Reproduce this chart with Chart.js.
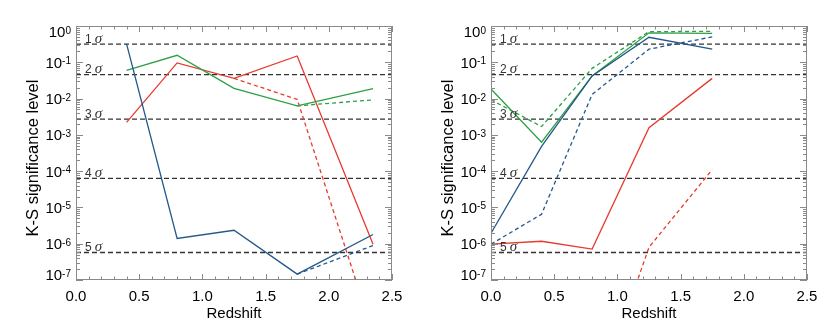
<!DOCTYPE html>
<html><head><meta charset="utf-8">
<script src="https://cdn.jsdelivr.net/npm/chart.js@4/dist/chart.umd.min.js"></script>
<style>
html,body{margin:0;padding:0;background:#fff;width:830px;height:333px;overflow:hidden}
.p{position:absolute;top:0;width:415px;height:333px}
</style></head>
<body>
<div class="p" style="left:0"><canvas id="c1" width="415" height="333"></canvas></div>
<div class="p" style="left:415px"><canvas id="c2" width="415" height="333"></canvas></div>
<script>
// ---- data ----
const sigmaLevels = [0.3173, 0.0455, 0.0027, 6.334e-5, 5.733e-7];
const sigmaLabels = ['1', '2', '3', '4', '5'];
const xTickValues = [0, 0.5, 1.0, 1.5, 2.0, 2.5];
const xTickLabels = ['0.0', '0.5', '1.0', '1.5', '2.0', '2.5'];
const yExponents = [0, -1, -2, -3, -4, -5, -6, -7];

// left panel
const zLeft = [0.4, 0.8, 1.25, 1.75, 2.35];
const leftBlue      = [0.32, 1.4e-6, 2.35e-6, 1.45e-7, 1.8e-6];
const leftBlueDash  = [null, null, null, 1.45e-7, 8.9e-7];
const leftGreen     = [0.060, 0.156, 0.0192, 0.0063, 0.0188];
const leftGreenDash = [null, null, null, 0.0063, 0.0092];
const leftRed       = [0.0022, 0.096, 0.036, 0.149, 9.7e-7];
const leftRedDash   = [null, null, 0.036, 0.0095, 3.4e-9];

// right panel
const zRight = [0.0, 0.4, 0.8, 1.25, 1.75];
const rightBlue      = [1.95e-6, 4.8e-4, 0.042, 0.49, 0.23];
const rightBlueDash  = [9.7e-7, 6.5e-6, 0.013, 0.23, 0.50];
const rightGreen     = [0.0184, 6.3e-4, 0.042, 0.65, 0.63];
const rightGreenDash = [0.0092, 0.0017, 0.068, 0.70, 0.71];
const rightRed       = [9.7e-7, 1.17e-6, 7.1e-7, 1.58e-3, 0.036];
const rightRedDash   = [null, null, 2.5e-11, 8e-7, 1.1e-4];

// ---- styles ----
const BLUE = '#22588a', GREEN = '#2ca044', RED = '#e8392f';
const FRAME = '#8a8a8a';
const FONT = '"Liberation Sans", Arial, sans-serif';

function pts(zs, vals) {
  const out = [];
  zs.forEach((z, i) => { if (vals[i] !== null) out.push({x: z, y: vals[i]}); });
  return out;
}
function ser(zs, vals, color, dashed) {
  return {data: pts(zs, vals), borderColor: color, borderWidth: 1.3,
    borderDash: dashed ? [4, 3] : [], pointRadius: 0, fill: false, tension: 0, clip: 0};
}
function sigmaSets() {
  return sigmaLevels.map(s => ({data: [{x: 0, y: s}, {x: 2.5, y: s}],
    borderColor: '#333', borderWidth: 1.3, borderDash: [5, 3], pointRadius: 0, fill: false, clip: 0}));
}

const idlAxes = {
  id: 'idlAxes',
  afterDatasetsDraw(chart) {
    const ctx = chart.ctx, a = chart.chartArea, xs = chart.scales.x, ys = chart.scales.y;
    ctx.save();
    // sigma labels
    ctx.fillStyle = '#333';
    sigmaLevels.forEach((s, i) => {
      const yb = ys.getPixelForValue(s) - 1.5;
      const x0 = a.left + 9;
      ctx.font = '12px ' + FONT;
      ctx.textAlign = 'left'; ctx.textBaseline = 'alphabetic';
      ctx.fillText(sigmaLabels[i], x0, yb);
      const w = ctx.measureText(sigmaLabels[i]).width;
      ctx.font = 'italic 15px "Liberation Serif", serif';
      ctx.fillText('σ', x0 + w + 3, yb);
    });
    // frame
    ctx.strokeStyle = FRAME; ctx.lineWidth = 1;
    ctx.strokeRect(a.left + 0.5, a.top + 0.5, a.right - a.left - 1, a.bottom - a.top - 1);
    // x ticks
    ctx.beginPath();
    for (let i = 0; i <= 25; i++) {
      const v = i / 10;
      const px = Math.round(xs.getPixelForValue(v)) + 0.5;
      const len = (i % 5 === 0) ? 6 : 3.5;
      ctx.moveTo(px, a.bottom); ctx.lineTo(px, a.bottom - len);
      ctx.moveTo(px, a.top); ctx.lineTo(px, a.top + len);
    }
    // y ticks
    for (let k = -7; k <= 0; k++) {
      for (let m = 1; m <= 9; m++) {
        if (k === 0 && m > 1) break;
        const v = m * Math.pow(10, k);
        const py = Math.round(ys.getPixelForValue(v)) + 0.5;
        const len = (m === 1) ? 7 : 4;
        ctx.moveTo(a.left, py); ctx.lineTo(a.left + len, py);
        ctx.moveTo(a.right, py); ctx.lineTo(a.right - len, py);
      }
    }
    ctx.stroke();
    // x tick labels
    ctx.fillStyle = '#000';
    ctx.font = '15px ' + FONT;
    ctx.textAlign = 'center'; ctx.textBaseline = 'alphabetic';
    xTickValues.forEach((v, i) => {
      ctx.fillText(xTickLabels[i], xs.getPixelForValue(v), a.bottom + 21);
    });
    // y tick labels (10^k)
    yExponents.forEach(k => {
      const py = ys.getPixelForValue(Math.pow(10, k));
      let base = py + 5.4;
      if (base - 10.7 < a.top) base = a.top + 11.3;
      if (base > a.bottom) base = a.bottom;
      ctx.font = '15px ' + FONT;
      const w1 = ctx.measureText('10').width;
      ctx.font = '10px ' + FONT;
      const e = String(k);
      const w2 = ctx.measureText(e).width;
      const right = a.left - 5;
      ctx.textAlign = 'left';
      ctx.font = '15px ' + FONT;
      ctx.fillText('10', right - w2 - w1, base);
      ctx.font = '10px ' + FONT;
      ctx.fillText(e, right - w2, base - 3.4);
    });
    // axis titles
    ctx.font = '15px ' + FONT;
    ctx.textAlign = 'center';
    ctx.fillText('Redshift', (a.left + a.right) / 2, a.bottom + 37.5);
    ctx.save();
    ctx.translate(a.left - 38.5, (a.top + a.bottom) / 2 + 5);
    ctx.rotate(-Math.PI / 2);
    ctx.font = '16.5px ' + FONT;
    ctx.fillText('K-S significance level', 0, 0);
    ctx.restore();
    ctx.restore();
  }
};

function makeChart(id, datasets) {
  return new Chart(document.getElementById(id), {
    type: 'line',
    data: {datasets: datasets},
    options: {
      responsive: false, animation: false, devicePixelRatio: 1,
      layout: {padding: {left: 76, right: 23, top: 26, bottom: 53}},
      plugins: {legend: {display: false}, tooltip: {enabled: false}},
      scales: {
        x: {type: 'linear', min: 0, max: 2.5, display: false},
        y: {type: 'logarithmic', min: 1e-7, max: 1, display: false}
      }
    },
    plugins: [idlAxes]
  });
}

makeChart('c1', [
  ser(zLeft, leftBlue, BLUE, false),
  ser(zLeft, leftBlueDash, BLUE, true),
  ser(zLeft, leftGreen, GREEN, false),
  ser(zLeft, leftGreenDash, GREEN, true),
  ser(zLeft, leftRed, RED, false),
  ser(zLeft, leftRedDash, RED, true)
].concat(sigmaSets()));

makeChart('c2', [
  ser(zRight, rightBlue, BLUE, false),
  ser(zRight, rightBlueDash, BLUE, true),
  ser(zRight, rightGreen, GREEN, false),
  ser(zRight, rightGreenDash, GREEN, true),
  ser(zRight, rightRed, RED, false),
  ser(zRight, rightRedDash, RED, true)
].concat(sigmaSets()));
</script>
</body></html>
